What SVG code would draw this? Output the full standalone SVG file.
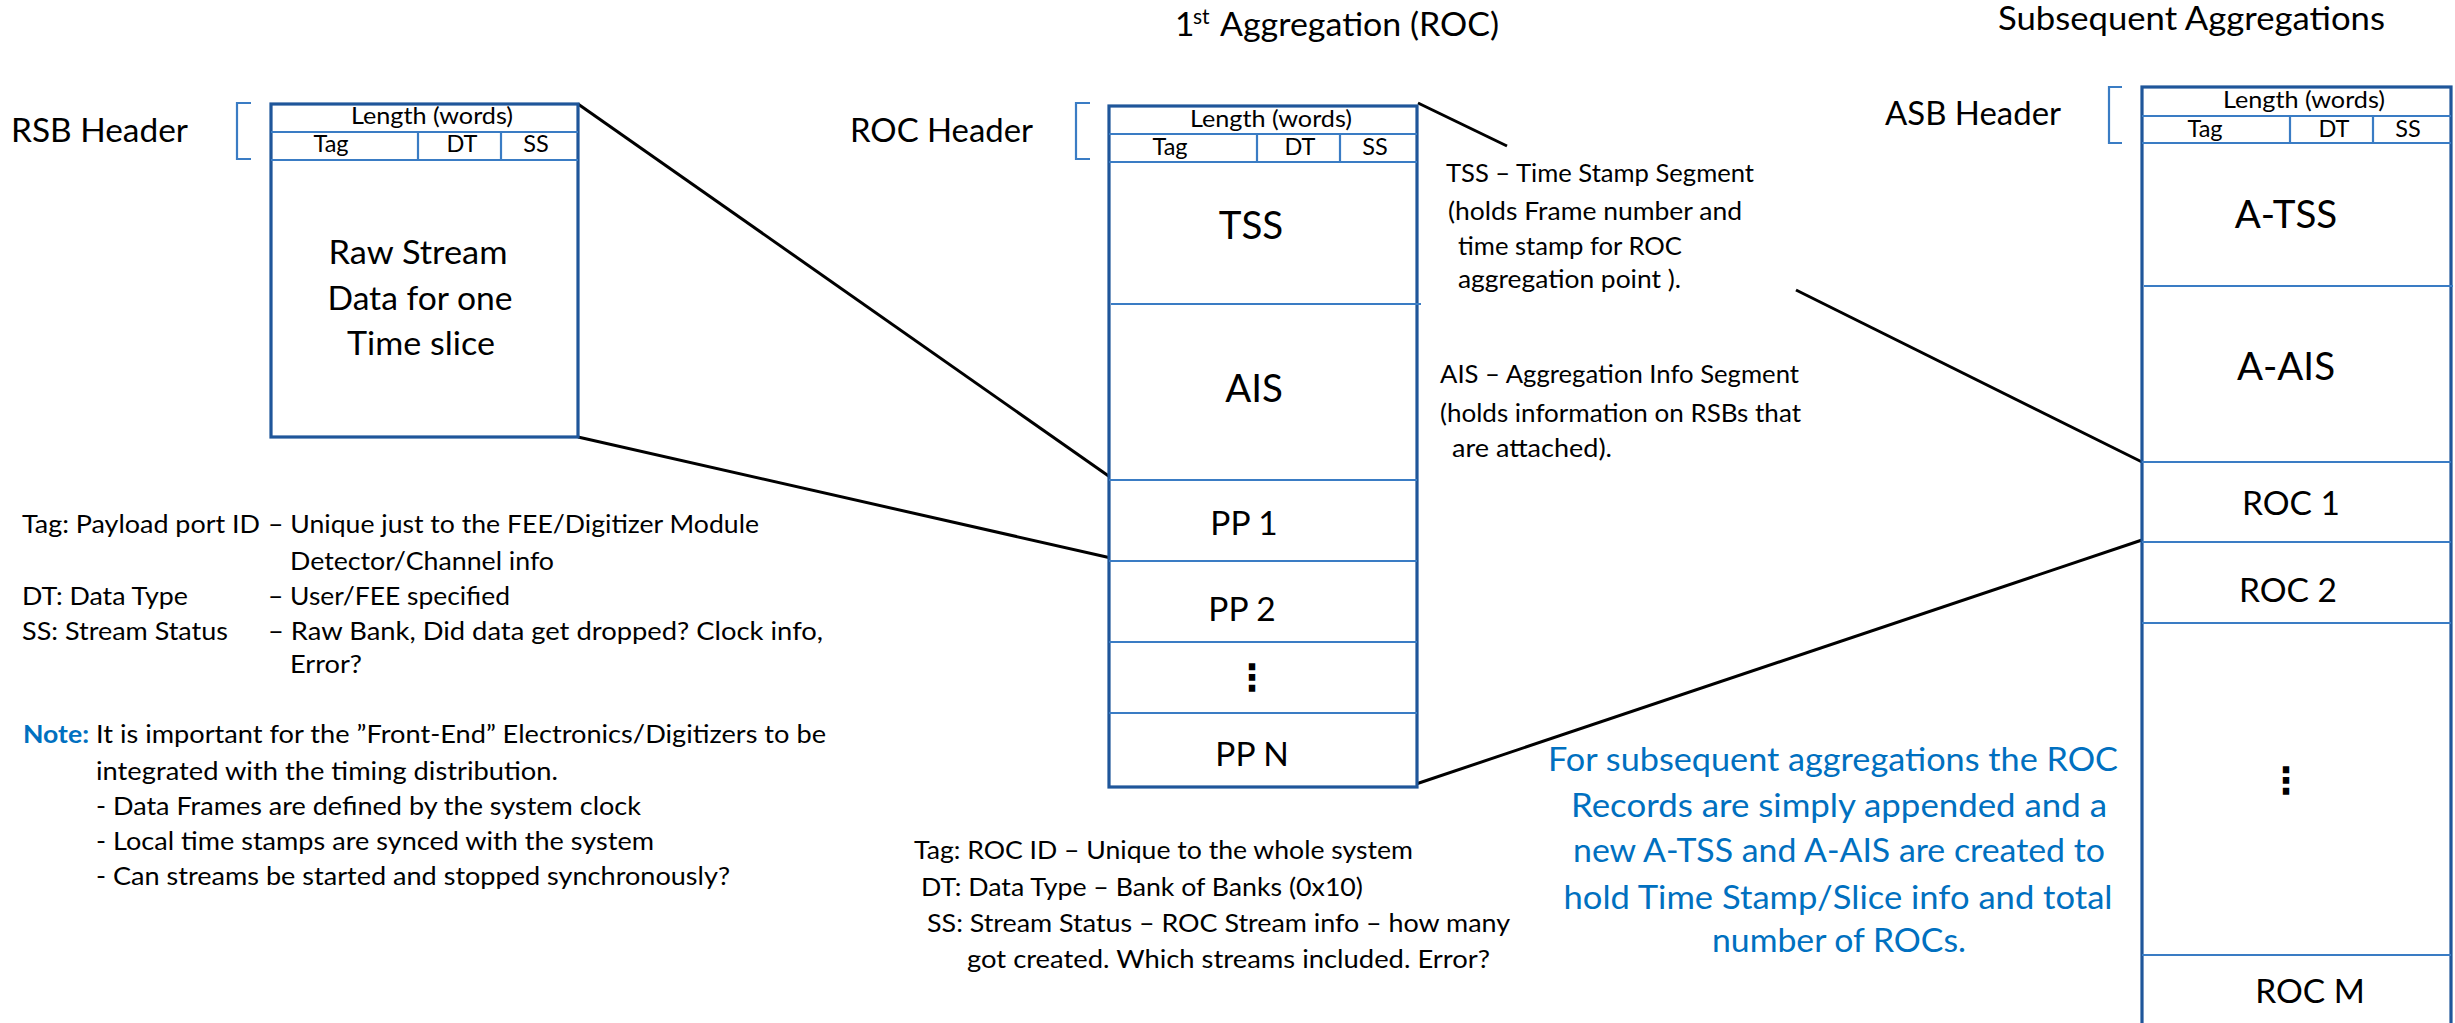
<svg xmlns="http://www.w3.org/2000/svg" width="2455" height="1023" viewBox="0 0 2455 1023">
<defs>
<style>
.bg{fill:#ffffff}
.box{fill:#ffffff;stroke:#1F569A;stroke-width:3.2}
.div{stroke:#3A7CC4;stroke-width:2.2;fill:none}
.brk{stroke:#3A7CC4;stroke-width:2.2;fill:none}
.con{stroke:#000000;stroke-width:3;fill:none}
text{font-family:Lato,"Liberation Sans",sans-serif;fill:#000000}
.t26{font-size:25px}
.hdr{font-size:23.5px}
.lbl{font-size:33.5px}
.seg{font-size:38.5px}
.blue{font-size:33.5px;fill:#0070C0}
.note{font-size:25px;fill:#0070C0;font-weight:bold}
.dots{font-family:"DejaVu Sans",sans-serif;font-size:36px;font-weight:bold}
.mid{text-anchor:middle}
</style>
</defs>
<rect class="bg" x="0" y="0" width="2455" height="1023"/>

<g id="titles">
<text class="lbl" x="1175" y="36">1</text>
<text x="1193" y="24" style="font-size:21px">st</text>
<text class="lbl" x="1220" y="36" textLength="279" lengthAdjust="spacingAndGlyphs">Aggregation (ROC)</text>
<text class="lbl" x="1998" y="30" textLength="387" lengthAdjust="spacingAndGlyphs">Subsequent Aggregations</text>
</g>

<g id="connectors">
<line class="con" x1="578" y1="104" x2="1110" y2="477"/>
<line class="con" x1="578" y1="437" x2="1111" y2="558"/>
<line class="con" x1="1418" y1="103" x2="1507" y2="146"/>
<line class="con" x1="1796" y1="290" x2="2142" y2="462"/>
<line class="con" x1="1416" y1="784" x2="2142" y2="540"/>
</g>

<g id="rsb">
<text class="lbl" x="11" y="142" textLength="177" lengthAdjust="spacingAndGlyphs">RSB Header</text>
<path class="brk" d="M251,103 H237 V159 H251"/>
<rect class="box" x="271" y="104" width="307" height="333"/>
<line class="div" x1="271" y1="132" x2="578" y2="132"/>
<line class="div" x1="271" y1="160" x2="578" y2="160"/>
<line class="div" x1="418" y1="132" x2="418" y2="160"/>
<line class="div" x1="501" y1="132" x2="501" y2="160"/>
<text class="hdr mid" x="432" y="124" textLength="162" lengthAdjust="spacingAndGlyphs">Length (words)</text>
<text class="hdr mid" x="331" y="152">Tag</text>
<text class="hdr mid" x="462" y="152">DT</text>
<text class="hdr mid" x="536" y="152">SS</text>
<text class="lbl mid" x="418" y="264" textLength="179" lengthAdjust="spacingAndGlyphs">Raw Stream</text>
<text class="lbl mid" x="420" y="310" textLength="185" lengthAdjust="spacingAndGlyphs">Data for one</text>
<text class="lbl mid" x="421" y="355" textLength="148" lengthAdjust="spacingAndGlyphs">Time slice</text>
</g>

<g id="roc">
<text class="lbl" x="850" y="142" textLength="183" lengthAdjust="spacingAndGlyphs">ROC Header</text>
<path class="brk" d="M1090,103 H1076 V159 H1090"/>
<rect class="box" x="1109" y="106" width="308" height="681"/>
<line class="div" x1="1109" y1="134" x2="1417" y2="134"/>
<line class="div" x1="1109" y1="162" x2="1417" y2="162"/>
<line class="div" x1="1257" y1="134" x2="1257" y2="162"/>
<line class="div" x1="1340" y1="134" x2="1340" y2="162"/>
<line class="div" x1="1111" y1="304" x2="1421" y2="304"/>
<line class="div" x1="1109" y1="480" x2="1417" y2="480"/>
<line class="div" x1="1109" y1="561" x2="1417" y2="561"/>
<line class="div" x1="1109" y1="642" x2="1417" y2="642"/>
<line class="div" x1="1109" y1="713" x2="1417" y2="713"/>
<text class="hdr mid" x="1271" y="127" textLength="162" lengthAdjust="spacingAndGlyphs">Length (words)</text>
<text class="hdr mid" x="1170" y="155">Tag</text>
<text class="hdr mid" x="1300" y="155">DT</text>
<text class="hdr mid" x="1375" y="155">SS</text>
<text class="seg mid" x="1251" y="239">TSS</text>
<text class="seg mid" x="1254" y="402">AIS</text>
<text class="lbl mid" x="1244" y="535">PP 1</text>
<text class="lbl mid" x="1242" y="621">PP 2</text>
<text class="dots mid" x="1252" y="690">⋮</text>
<text class="lbl mid" x="1252" y="766">PP N</text>
</g>

<g id="asb">
<text class="lbl" x="1885" y="125" textLength="176" lengthAdjust="spacingAndGlyphs">ASB Header</text>
<path class="brk" d="M2122,87 H2109 V143 H2122"/>
<rect class="box" x="2142" y="87" width="309" height="960"/>
<line class="div" x1="2142" y1="116" x2="2451" y2="116"/>
<line class="div" x1="2142" y1="143" x2="2451" y2="143"/>
<line class="div" x1="2290" y1="116" x2="2290" y2="143"/>
<line class="div" x1="2373" y1="116" x2="2373" y2="143"/>
<line class="div" x1="2144" y1="286" x2="2453" y2="286"/>
<line class="div" x1="2142" y1="462" x2="2451" y2="462"/>
<line class="div" x1="2142" y1="542" x2="2451" y2="542"/>
<line class="div" x1="2142" y1="623" x2="2451" y2="623"/>
<line class="div" x1="2142" y1="955" x2="2451" y2="955"/>
<text class="hdr mid" x="2304" y="108" textLength="162" lengthAdjust="spacingAndGlyphs">Length (words)</text>
<text class="hdr mid" x="2205" y="137">Tag</text>
<text class="hdr mid" x="2334" y="137">DT</text>
<text class="hdr mid" x="2408" y="137">SS</text>
<text class="seg mid" x="2286" y="228">A-TSS</text>
<text class="seg mid" x="2286" y="380">A-AIS</text>
<text class="lbl mid" x="2291" y="515">ROC 1</text>
<text class="lbl mid" x="2288" y="602">ROC 2</text>
<text class="dots mid" x="2286" y="793">⋮</text>
<text class="lbl mid" x="2310" y="1003">ROC M</text>
</g>

<g id="tss-note">
<text class="t26" x="1446" y="182" textLength="308" lengthAdjust="spacingAndGlyphs">TSS – Time Stamp Segment</text>
<text class="t26" x="1448" y="220" textLength="294" lengthAdjust="spacingAndGlyphs">(holds Frame number and</text>
<text class="t26" x="1458" y="255" textLength="224" lengthAdjust="spacingAndGlyphs">time stamp for ROC</text>
<text class="t26" x="1458" y="288" textLength="223" lengthAdjust="spacingAndGlyphs">aggregation point ).</text>
</g>

<g id="ais-note">
<text class="t26" x="1440" y="383" textLength="359" lengthAdjust="spacingAndGlyphs">AIS – Aggregation Info Segment</text>
<text class="t26" x="1440" y="422" textLength="361" lengthAdjust="spacingAndGlyphs">(holds information on RSBs that</text>
<text class="t26" x="1452" y="457" textLength="160" lengthAdjust="spacingAndGlyphs">are attached).</text>
</g>

<g id="rsb-legend">
<text class="t26" x="22" y="533" textLength="238" lengthAdjust="spacingAndGlyphs">Tag: Payload port ID</text>
<text class="t26" x="268" y="533" textLength="491" lengthAdjust="spacingAndGlyphs">– Unique just to the FEE/Digitizer Module</text>
<text class="t26" x="290" y="570" textLength="264" lengthAdjust="spacingAndGlyphs">Detector/Channel info</text>
<text class="t26" x="22" y="605" textLength="166" lengthAdjust="spacingAndGlyphs">DT: Data Type</text>
<text class="t26" x="268" y="605" textLength="242" lengthAdjust="spacingAndGlyphs">– User/FEE specified</text>
<text class="t26" x="22" y="640" textLength="206" lengthAdjust="spacingAndGlyphs">SS: Stream Status</text>
<text class="t26" x="268" y="640" textLength="555" lengthAdjust="spacingAndGlyphs">– Raw Bank, Did data get dropped? Clock  info,</text>
<text class="t26" x="290" y="673" textLength="72" lengthAdjust="spacingAndGlyphs">Error?</text>
</g>

<g id="note">
<text class="note" x="23" y="743" textLength="66" lengthAdjust="spacingAndGlyphs">Note:</text>
<text class="t26" x="96" y="743" textLength="730" lengthAdjust="spacingAndGlyphs">It is important for the ”Front-End” Electronics/Digitizers to be</text>
<text class="t26" x="96" y="780" textLength="462" lengthAdjust="spacingAndGlyphs">integrated with the timing distribution.</text>
<text class="t26" x="96" y="815" textLength="545" lengthAdjust="spacingAndGlyphs">- Data Frames are defined by the system clock</text>
<text class="t26" x="96" y="850" textLength="558" lengthAdjust="spacingAndGlyphs">- Local time stamps are synced with the system</text>
<text class="t26" x="96" y="885" textLength="634" lengthAdjust="spacingAndGlyphs">- Can streams be started and stopped synchronously?</text>
</g>

<g id="roc-legend">
<text class="t26" x="914" y="859" textLength="499" lengthAdjust="spacingAndGlyphs">Tag: ROC ID – Unique to the whole system</text>
<text class="t26" x="921" y="896" textLength="442" lengthAdjust="spacingAndGlyphs">DT: Data Type – Bank of Banks (0x10)</text>
<text class="t26" x="927" y="932" textLength="583" lengthAdjust="spacingAndGlyphs">SS: Stream Status – ROC Stream info – how many</text>
<text class="t26" x="967" y="968" textLength="523" lengthAdjust="spacingAndGlyphs">got created. Which streams included. Error?</text>
</g>

<g id="subsequent-note">
<text class="blue mid" x="1833" y="771" textLength="570" lengthAdjust="spacingAndGlyphs">For subsequent aggregations the ROC</text>
<text class="blue mid" x="1839" y="817" textLength="536" lengthAdjust="spacingAndGlyphs">Records are simply appended and a</text>
<text class="blue mid" x="1839" y="862" textLength="532" lengthAdjust="spacingAndGlyphs">new A-TSS and A-AIS are created to</text>
<text class="blue mid" x="1838" y="909" textLength="549" lengthAdjust="spacingAndGlyphs">hold Time Stamp/Slice info and total</text>
<text class="blue mid" x="1839" y="952" textLength="254" lengthAdjust="spacingAndGlyphs">number of ROCs.</text>
</g>
</svg>
